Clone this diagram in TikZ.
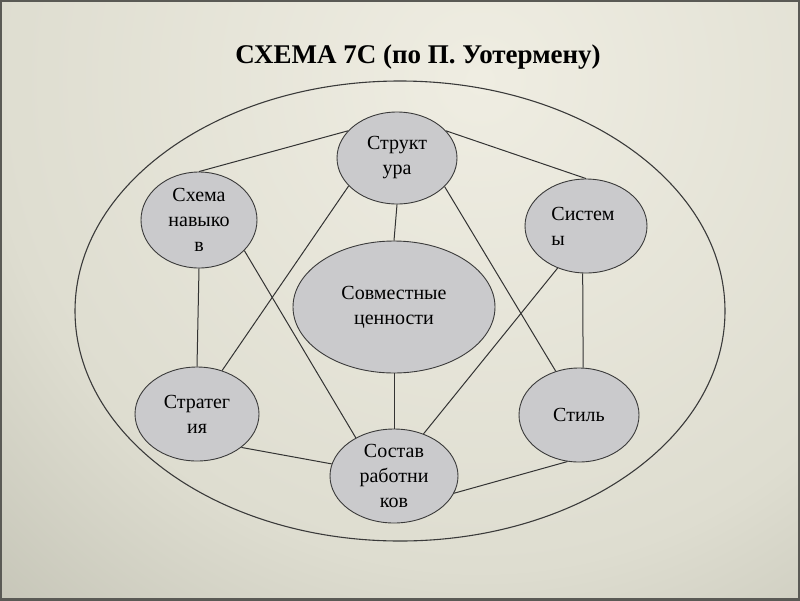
\documentclass[tikz,border=0pt]{standalone}
\usepackage{fontspec}
\setmainfont{Liberation Serif}
\usetikzlibrary{shapes.geometric}
\definecolor{bgA}{HTML}{EFEDE2}
\definecolor{bgB}{HTML}{DEDDD0}
\definecolor{bgC}{HTML}{ADAD9F}
\definecolor{bgD}{HTML}{8C8C80}
\definecolor{framecol}{HTML}{5A5A55}
\definecolor{nodefill}{HTML}{CACACC}
\definecolor{nodeedge}{HTML}{3A3A3A}
\definecolor{linecol}{HTML}{333333}
\pgfdeclareradialshading{bgrad}{\pgfpoint{0bp}{0bp}}{color(0bp)=(bgA); color(17bp)=(bgB); color(33bp)=(bgC); color(50bp)=(bgD)}
\begin{document}
\begin{tikzpicture}[x=1pt,y=-1pt,
  bub/.style={ellipse, draw=nodeedge, line width=0.9pt, fill=nodefill, inner sep=0pt},
  txt/.style={align=center, inner sep=0pt, font=\fontsize{20}{25}\selectfont},
  conn/.style={draw=linecol, line width=1pt}]
\useasboundingbox (0,0) rectangle (800,600);
\begin{scope}
  \clip (0,0) rectangle (800,600);
  \shade[shading=bgrad] (480,80) circle [radius=720pt];
\end{scope}
\draw[framecol, line width=4pt] (0,0) rectangle (800,600);

\node[font=\fontsize{27}{32}\bfseries\selectfont, anchor=base] (title) at (418,63) {СХЕМА 7С (по П. Уотермену)};

\draw[nodeedge, line width=1.1pt] (400,311) ellipse [x radius=325pt, y radius=230pt];

\node[bub, minimum width=120pt, minimum height=92pt,
  label={[txt]center:Структ\\ура}] (struct) at (397,158) {};
\node[bub, minimum width=116pt, minimum height=96pt,
  label={[txt]center:Схема\\навыко\\в}] (schema) at (199,220) {};
\node[bub, minimum width=122pt, minimum height=94pt,
  label={[txt, align=left, xshift=-3pt]center:Систем\\ы}] (sys) at (586,226) {};
\node[bub, minimum width=202pt, minimum height=132pt,
  label={[txt]center:Совместные\\ценности}] (shared) at (394,307) {};
\node[bub, minimum width=124pt, minimum height=94pt,
  label={[txt]center:Стратег\\ия}] (strat) at (197,414) {};
\node[bub, minimum width=120pt, minimum height=94pt,
  label={[txt]center:Стиль}] (style) at (579,415) {};
\node[bub, minimum width=128pt, minimum height=94pt,
  label={[txt]center:Состав\\работни\\ков}] (staff) at (394,476) {};

\draw[conn] (schema.north) -- (struct.151);
\draw[conn] (struct.29) -- (sys.north);
\draw[conn] (schema.south) -- (strat.north);
\draw[conn] (sys.266) -- (style.85);
\draw[conn] (struct.south) -- (shared.north);
\draw[conn] (shared.south) -- (staff.north);
\draw[conn] (struct.210) -- (strat.60);
\draw[conn] (struct.329) -- (style.118);
\draw[conn] (schema.326) -- (staff.135);
\draw[conn] (sys.236) -- (staff.55);
\draw[conn] (strat.323) -- (staff.169);
\draw[conn] (staff.344) -- (style.256);
\end{tikzpicture}
\end{document}
